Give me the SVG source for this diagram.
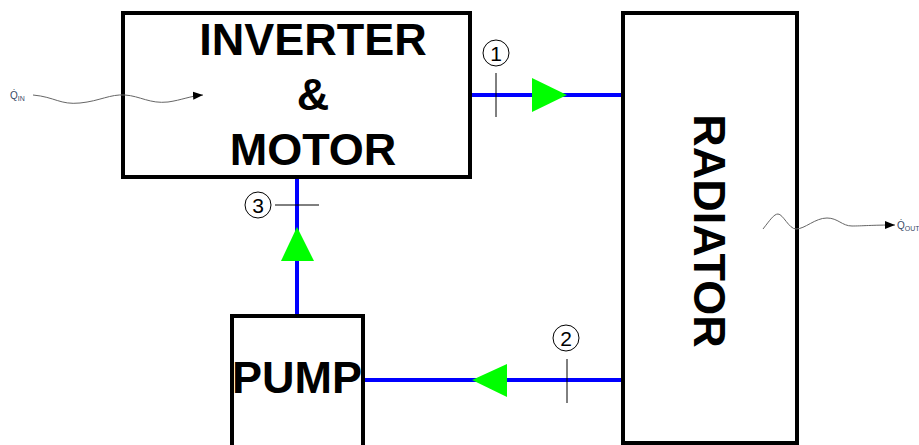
<svg xmlns="http://www.w3.org/2000/svg" width="919" height="445" viewBox="0 0 919 445">
<style>
.box{fill:#fff;stroke:#000;stroke-width:4}
.lbl{font-family:"Liberation Sans",Arial,sans-serif;font-weight:bold;font-size:45px;fill:#000;text-anchor:middle}
.pipe{stroke:#0000ff;stroke-width:4;fill:none}
.flow{fill:#00ff00;stroke:none}
.tick{stroke:#000;stroke-width:1;fill:none}
.num{fill:#fff;stroke:#000;stroke-width:1}
.numt{font-family:"Liberation Sans",Arial,sans-serif;font-size:21px;fill:#000;text-anchor:middle}
.wave{stroke:#666;stroke-width:1;fill:none}
.q{font-family:"Liberation Sans",Arial,sans-serif;fill:#3a4a66}
</style>
<defs>
<marker id="ah" viewBox="0 0 10 10" refX="10" refY="5" markerWidth="10" markerHeight="10" markerUnits="userSpaceOnUse" orient="auto">
<path d="M0,1 L10,5 L0,9 z" fill="#000"/>
</marker>
</defs>
<rect width="919" height="445" fill="#fff"/>
<g id="connectors">
<line class="pipe" x1="470" y1="95" x2="623" y2="95"/>
<polygon class="flow" points="532,78 567,95 532,112"/>
<line class="pipe" x1="362" y1="380" x2="623" y2="380"/>
<polygon class="flow" points="507,364 472,380 507,397"/>
<line class="pipe" x1="297" y1="177" x2="297" y2="316"/>
<polygon class="flow" points="281,261 297,227 314,261"/>
</g>
<g id="inverter-motor">
<rect class="box" x="123" y="13" width="347" height="164"/>
<text class="lbl" x="313" y="55">INVERTER</text>
<text class="lbl" x="313" y="110">&amp;</text>
<text class="lbl" x="313" y="165">MOTOR</text>
</g>
<g id="radiator">
<rect class="box" x="623" y="13" width="174" height="430"/>
<text class="lbl" transform="translate(694,231) rotate(90)">RADIATOR</text>
</g>
<g id="pump">
<rect class="box" x="232" y="316" width="131" height="140"/>
<text class="lbl" x="297" y="393">PUMP</text>
</g>
<g id="point-1">
<line class="tick" x1="496" y1="73" x2="496" y2="117"/>
<circle class="num" cx="496" cy="53" r="13"/>
<text class="numt" x="496" y="61">1</text>
</g>
<g id="point-2">
<line class="tick" x1="567" y1="359" x2="567" y2="403"/>
<circle class="num" cx="566" cy="338" r="13"/>
<text class="numt" x="566" y="346">2</text>
</g>
<g id="point-3">
<line class="tick" x1="275" y1="205" x2="319" y2="205"/>
<circle class="num" cx="258" cy="205" r="13"/>
<text class="numt" x="258" y="213">3</text>
</g>
<g id="q-in">
<path class="wave" d="M33,95 C55,97 60,105 80,103 C100,101 110,94 125,95 C140,96 150,104 168,102 C182,100 190,96 203,95" marker-end="url(#ah)"/>
<text class="q" x="10" y="99" font-size="10">Q&#775;<tspan font-size="7" dy="2">IN</tspan></text>
</g>
<g id="q-out">
<path class="wave" d="M763,229 C770,220 774,214 778,214 C783,214 789,229 796,229 C805,229 815,218 827,218 C838,218 842,226 852,226 C862,226 872,225 895,225" marker-end="url(#ah)"/>
<text class="q" x="897" y="229" font-size="10">Q&#775;<tspan font-size="7" dy="2">OUT</tspan></text>
</g>
</svg>
